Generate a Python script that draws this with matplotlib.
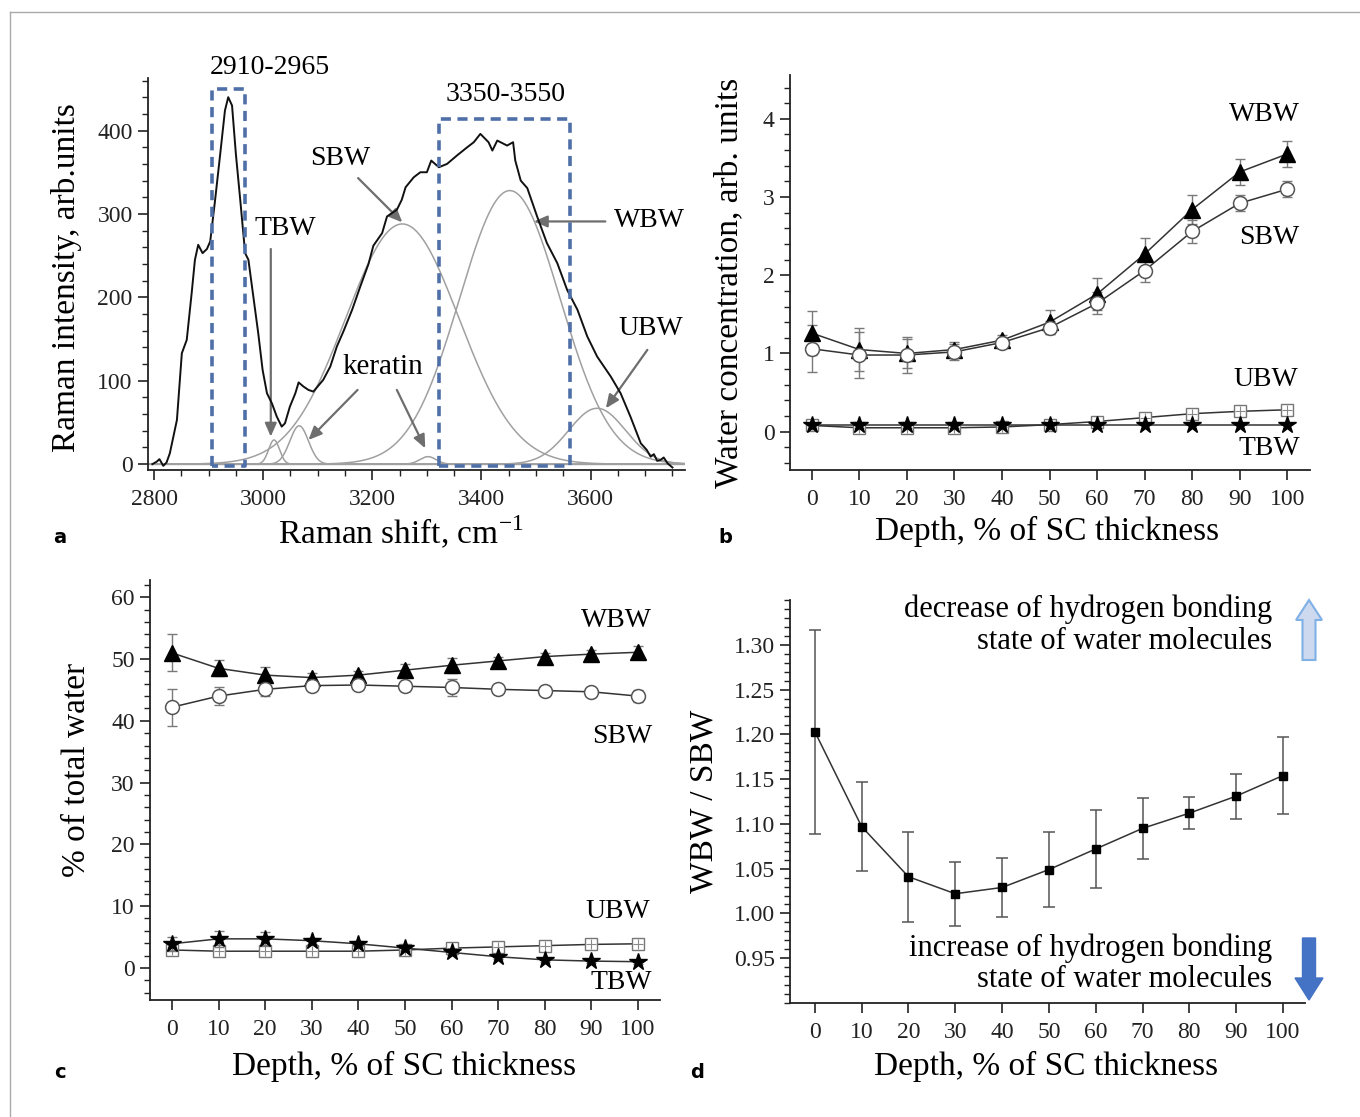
import numpy as np
import matplotlib
matplotlib.use("Agg")
import matplotlib.pyplot as plt
from matplotlib.lines import Line2D
from matplotlib.patches import Polygon
from matplotlib.ticker import MultipleLocator

plt.rcParams['font.family'] = ['Liberation Serif', 'DejaVu Serif']
plt.rcParams['mathtext.fontset'] = 'custom'
plt.rcParams['mathtext.rm'] = 'Liberation Serif'

# ---------------- data ----------------
# panel a: measured Raman spectrum (cm-1, intensity)
spec_x = [2797, 2805, 2810, 2817, 2823, 2829, 2842, 2851, 2860, 2869, 2875, 2881, 2889,
          2897, 2903, 2912, 2920, 2930, 2936, 2943, 2950, 2958, 2967, 2973, 2982, 2991,
          2999, 3007, 3016, 3025, 3034, 3040, 3049, 3059, 3065, 3074, 3083, 3092, 3101,
          3110, 3123, 3135, 3147, 3163, 3178, 3193, 3202, 3218, 3227, 3245, 3254, 3261,
          3276, 3288, 3300, 3308, 3322, 3337, 3355, 3374, 3386, 3398, 3413, 3420, 3429,
          3447, 3458, 3462, 3472, 3484, 3502, 3520, 3539, 3557, 3576, 3594, 3612, 3637,
          3655, 3673, 3692, 3703, 3710, 3716, 3722, 3728, 3734, 3741, 3750]
spec_y = [0, 3, 6, -2, 2, 13, 53, 133, 149, 205, 245, 263, 253,
          258, 267, 317, 364, 424, 440, 430, 372, 317, 253, 245, 201, 157,
          113, 85, 73, 57, 45, 49, 69, 85, 98, 93, 89, 87, 94,
          101, 117, 141, 159, 185, 213, 240, 262, 277, 297, 305, 317, 332,
          344, 350, 350, 364, 356, 360, 370, 380, 386, 396, 386, 376, 388,
          382, 386, 364, 340, 331, 297, 265, 241, 209, 185, 153, 129, 105,
          85, 57, 25, 17, 9, 12, 4, 5, 8, 1, -4]
# fitted Gaussian bands: name, centre (cm-1), height, sigma (cm-1)
band_names = ['TBW', 'keratin1', 'SBW', 'keratin2', 'WBW', 'UBW']
band_centre = [3020, 3066, 3255, 3302, 3452, 3612]
band_height = [29, 46, 288, 9, 328, 67]
band_sigma = [10, 17, 104, 15, 92, 52]

# panels b-d
depth = [0, 10, 20, 30, 40, 50, 60, 70, 80, 90, 100]
b_wbw = [1.26, 1.05, 1.00, 1.05, 1.17, 1.40, 1.76, 2.27, 2.84, 3.32, 3.55]
b_wbw_err = [0.28, 0.28, 0.19, 0.10, 0.06, 0.15, 0.21, 0.21, 0.19, 0.17, 0.16]
b_sbw = [1.06, 0.98, 0.98, 1.02, 1.14, 1.33, 1.64, 2.06, 2.56, 2.92, 3.10]
b_sbw_err = [0.30, 0.30, 0.23, 0.10, 0.05, 0.08, 0.14, 0.15, 0.15, 0.10, 0.10]
b_ubw = [0.08, 0.05, 0.05, 0.05, 0.06, 0.09, 0.13, 0.18, 0.23, 0.26, 0.28]
b_tbw = [0.09, 0.09, 0.09, 0.09, 0.09, 0.09, 0.09, 0.09, 0.09, 0.09, 0.09]

c_wbw = [51.0, 48.5, 47.4, 47.0, 47.4, 48.2, 49.0, 49.7, 50.4, 50.8, 51.1]
c_wbw_err = [3.0, 1.3, 1.3, 0.7, 0.7, 1.0, 1.2, 0.7, 0.6, 0.6, 1.0]
c_sbw = [42.2, 44.0, 45.1, 45.7, 45.8, 45.6, 45.4, 45.1, 44.9, 44.7, 44.0]
c_sbw_err = [3.0, 1.5, 1.1, 0.7, 0.7, 0.8, 1.3, 0.7, 0.7, 0.6, 1.0]
c_ubw = [2.9, 2.7, 2.7, 2.7, 2.7, 2.9, 3.2, 3.4, 3.6, 3.8, 3.9]
c_tbw = [3.9, 4.7, 4.7, 4.4, 3.9, 3.2, 2.5, 1.8, 1.3, 1.1, 1.0]
c_tbw_err = [1.1, 1.3, 1.1, 0.5, 0.4, 0.4, 0.4, 0.3, 0.3, 0.3, 0.3]

d_ratio = [1.203, 1.097, 1.041, 1.022, 1.029, 1.049, 1.072, 1.095, 1.112, 1.131, 1.154]
d_err = [0.114, 0.050, 0.050, 0.036, 0.033, 0.042, 0.044, 0.034, 0.018, 0.025, 0.043]

# ---------------- figure ----------------
W, H = 1360, 1117
fig = plt.figure(figsize=(W / 100, H / 100), dpi=100)


def rect(l, r, t, b):
    return [l / W, 1 - b / H, (r - l) / W, (b - t) / H]


TICK = 17
LAB = 24
TXT = 20
NOTE = 22
AX_COL = '#222222'


def style(ax):
    for s in ['top', 'right']:
        ax.spines[s].set_visible(False)
    for s in ['left', 'bottom']:
        ax.spines[s].set_color(AX_COL)
        ax.spines[s].set_linewidth(1.3)
    ax.tick_params(axis='both', which='major', direction='out', length=7, width=1.2,
                   labelsize=TICK, colors=AX_COL, pad=4)
    ax.tick_params(axis='x', which='major', pad=7)
    ax.tick_params(axis='both', which='minor', direction='out', length=4, width=1.0,
                   colors=AX_COL)


# ---------- panel a ----------
ax = fig.add_axes(rect(148, 685, 78, 470))
style(ax)
xx = np.linspace(2789, 3773, 1200)
comp_col = '#a0a0a0'
ax.axhline(0, color=comp_col, lw=1.0, zorder=1)
for c, h, s in zip(band_centre, band_height, band_sigma):
    ax.plot(xx, h * np.exp(-0.5 * ((xx - c) / s) ** 2), color=comp_col, lw=1.1, zorder=2)
ax.plot(spec_x, spec_y, color='#111111', lw=1.4, zorder=4)
box_col = '#4f6fa8'
for (x0, x1, y1) in [(2907, 2966, 450), (3322, 3562, 414)]:
    ax.plot([x0, x0, x1, x1, x0], [-2, y1, y1, -2, -2], color=box_col, lw=2.6,
            ls=(0, (2.8, 1.8)), zorder=5)
ax.text(3013, 475, '2910-2965', ha='center', va='center', fontsize=TXT, clip_on=False)
ax.text(3444, 443, '3350-3550', ha='center', va='center', fontsize=TXT)
arr = dict(arrowstyle='-|>,head_length=0.8,head_width=0.35', color='#6e6e6e', lw=1.6,
           shrinkA=0, shrinkB=0)
ax.text(3141, 367, 'SBW', ha='center', va='center', fontsize=TXT)
ax.annotate('', xy=(3255, 290), xytext=(3174, 343), arrowprops=arr)
ax.text(3040, 283, 'TBW', ha='center', va='center', fontsize=TXT)
ax.annotate('', xy=(3014, 33), xytext=(3014, 258), arrowprops=arr)
ax.text(3220, 117, 'keratin', ha='center', va='center', fontsize=21)
ax.annotate('', xy=(3083, 29), xytext=(3173, 89), arrowprops=arr)
ax.annotate('', xy=(3297, 19), xytext=(3245, 89), arrowprops=arr)
ax.text(3642, 292, 'WBW', ha='left', va='center', fontsize=TXT)
ax.annotate('', xy=(3496, 291), xytext=(3627, 291), arrowprops=arr)
ax.text(3710, 163, 'UBW', ha='center', va='center', fontsize=TXT)
ax.annotate('', xy=(3628, 67), xytext=(3704, 137), arrowprops=arr)
ax.set_xlim(2789, 3773)
ax.set_ylim(-7, 463)
ax.xaxis.set_major_locator(MultipleLocator(200))
ax.xaxis.set_minor_locator(MultipleLocator(50))
ax.yaxis.set_major_locator(MultipleLocator(100))
ax.yaxis.set_minor_locator(MultipleLocator(20))
ax.set_xlabel('Raman shift, cm$^{-1}$', fontsize=LAB, va='top')
ax.xaxis.set_label_coords(0.47, -0.112)
ax.set_ylabel('Raman intensity, arb.units', fontsize=LAB)
ax.yaxis.set_label_coords(-0.122, 0.49)

# marker styles
line_kw = dict(color='#333333', lw=1.1)
err_kw = dict(ecolor='#7a7a7a', elinewidth=1.0, capsize=3.5, capthick=1.0)


def series(ax, x, y, err, kind, ms_scale=1.0):
    if kind == 'WBW':
        mk = dict(marker='^', ms=11 * ms_scale, mfc='black', mec='black')
    elif kind == 'SBW':
        mk = dict(marker='o', ms=10 * ms_scale, mfc='white', mec='#555555', mew=1.1)
    elif kind == 'UBW':
        mk = dict(marker='s', ms=8 * ms_scale, mfc='white', mec='#777777', mew=1.0)
    else:
        mk = dict(marker='*', ms=13 * ms_scale, mfc='black', mec='black')
    z = 4 if kind == 'TBW' else 3
    if err is not None:
        ax.errorbar(x, y, yerr=err, fmt='none', zorder=z - 0.5, **err_kw)
    ax.plot(x, y, zorder=z, **line_kw, **mk)
    if kind == 'UBW':
        ax.plot(x, y, ls='none', marker='+', ms=7 * ms_scale, mec='#888888', mew=0.8,
                zorder=z + 0.1)


# ---------- panel b ----------
ax = fig.add_axes(rect(790, 1310, 75, 470))
style(ax)
series(ax, depth, b_wbw, b_wbw_err, 'WBW')
series(ax, depth, b_sbw, b_sbw_err, 'SBW')
series(ax, depth, b_ubw, None, 'UBW')
series(ax, depth, b_tbw, None, 'TBW')
ax.set_xlim(-4.6, 104.8)
ax.set_ylim(-0.49, 4.56)
ax.set_xticks(depth)
ax.yaxis.set_major_locator(MultipleLocator(1))
ax.yaxis.set_minor_locator(MultipleLocator(0.2))
ax.text(102.7, 4.06, 'WBW', ha='right', va='center', fontsize=TXT)
ax.text(102.5, 2.48, 'SBW', ha='right', va='center', fontsize=TXT)
ax.text(102.3, 0.67, 'UBW', ha='right', va='center', fontsize=TXT)
ax.text(102.7, -0.21, 'TBW', ha='right', va='center', fontsize=TXT)
ax.set_xlabel('Depth, % of SC thickness', fontsize=LAB, va='top')
ax.xaxis.set_label_coords(0.494, -0.117)
ax.set_ylabel('Water concentration, arb. units', fontsize=LAB)
ax.yaxis.set_label_coords(-0.087, 0.473)

# ---------- panel c ----------
ax = fig.add_axes(rect(150, 660, 580, 1000))
style(ax)
series(ax, depth, c_wbw, c_wbw_err, 'WBW')
series(ax, depth, c_sbw, c_sbw_err, 'SBW')
series(ax, depth, c_ubw, None, 'UBW')
series(ax, depth, c_tbw, c_tbw_err, 'TBW')
ax.set_xlim(-4.7, 104.7)
ax.set_ylim(-5.2, 62.8)
ax.set_xticks(depth)
ax.yaxis.set_major_locator(MultipleLocator(10))
ax.yaxis.set_minor_locator(MultipleLocator(2))
ax.text(103, 56.3, 'WBW', ha='right', va='center', fontsize=TXT)
ax.text(103, 37.4, 'SBW', ha='right', va='center', fontsize=TXT)
ax.text(102.6, 9.1, 'UBW', ha='right', va='center', fontsize=TXT)
ax.text(103, -2.3, 'TBW', ha='right', va='center', fontsize=TXT)
ax.set_xlabel('Depth, % of SC thickness', fontsize=LAB, va='top')
ax.xaxis.set_label_coords(0.498, -0.122)
ax.set_ylabel('% of total water', fontsize=LAB)
ax.yaxis.set_label_coords(-0.114, 0.548)

# ---------- panel d ----------
ax = fig.add_axes(rect(790, 1305, 600, 1003))
style(ax)
ax.errorbar(depth, d_ratio, yerr=d_err, fmt='none', ecolor='#555555', elinewidth=1.1,
            capsize=4, capthick=1.1, zorder=2)
ax.plot(depth, d_ratio, color='#333333', lw=1.1, marker='s', ms=5.5, mfc='black',
        mec='black', zorder=3)
ax.set_xlim(-5.3, 104.7)
ax.set_ylim(0.9, 1.35)
ax.set_xticks(depth)
ax.set_yticks([0.95, 1.00, 1.05, 1.10, 1.15, 1.20, 1.25, 1.30])
ax.yaxis.set_major_formatter(matplotlib.ticker.FormatStrFormatter('%.2f'))
ax.yaxis.set_minor_locator(MultipleLocator(0.01))
ax.text(97.6, 1.340, 'decrease of hydrogen bonding', ha='right', va='center', fontsize=NOTE)
ax.text(97.6, 1.304, 'state of water molecules', ha='right', va='center', fontsize=NOTE)
ax.text(97.6, 0.961, 'increase of hydrogen bonding', ha='right', va='center', fontsize=NOTE)
ax.text(97.6, 0.926, 'state of water molecules', ha='right', va='center', fontsize=NOTE)
ax.set_xlabel('Depth, % of SC thickness', fontsize=LAB, va='top')
ax.xaxis.set_label_coords(0.497, -0.12)
ax.set_ylabel('WBW / SBW', fontsize=LAB)
ax.yaxis.set_label_coords(-0.136, 0.5)


# arrows at right of panel d (figure pixel coordinates)
def arrow_poly(cx, tip_y, base_y, body_w, head_w, head_len):
    d = 1 if base_y > tip_y else -1
    hy = tip_y + d * head_len
    pts = [(cx, tip_y), (cx + head_w / 2, hy), (cx + body_w / 2, hy),
           (cx + body_w / 2, base_y), (cx - body_w / 2, base_y), (cx - body_w / 2, hy),
           (cx - head_w / 2, hy)]
    return [(px / W, 1 - py / H) for px, py in pts]


fig.add_artist(Polygon(arrow_poly(1309, 600, 660, 13, 26, 20), closed=True,
                       transform=fig.transFigure, facecolor='#cdd9ee', edgecolor='#7fb0e6',
                       lw=1.5))
fig.add_artist(Polygon(arrow_poly(1309, 1000, 938, 13, 28, 22), closed=True,
                       transform=fig.transFigure, facecolor='#4472c4', edgecolor='#4472c4',
                       lw=1.0))

# panel letters
for lab, (px, py) in zip('abcd', [(60, 537), (725, 537), (60, 1072), (697, 1072)]):
    fig.text(px / W, 1 - py / H, lab, fontsize=14, fontweight='bold',
             family='DejaVu Sans', ha='center', va='center')

# frame lines
fig.add_artist(Line2D([10 / W, 1], [1 - 12 / H, 1 - 12 / H], color='#aaaaaa', lw=1.0,
                      transform=fig.transFigure))
fig.add_artist(Line2D([10 / W, 10 / W], [1 - 12 / H, 0], color='#aaaaaa', lw=1.0,
                      transform=fig.transFigure))

fig.savefig('out.png', dpi=100, facecolor='white')
